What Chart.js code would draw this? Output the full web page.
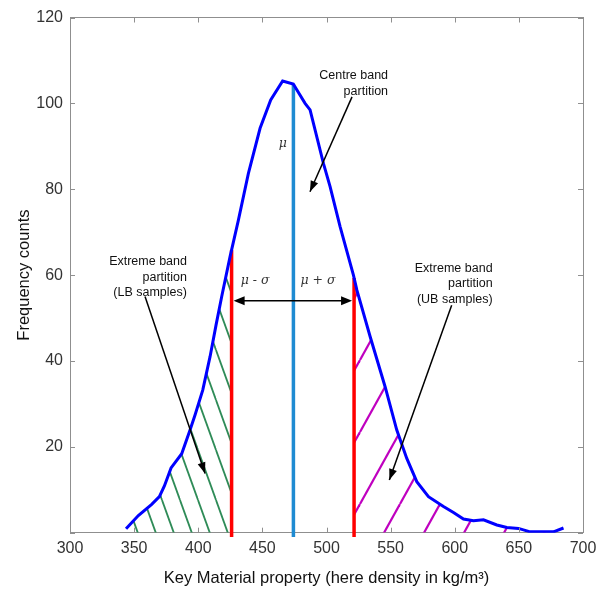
<!DOCTYPE html>
<html>
<head>
<meta charset="utf-8">
<script src="https://cdn.jsdelivr.net/npm/chart.js@4.4.1/dist/chart.umd.min.js"></script>
<style>
  html, body { margin: 0; padding: 0; background: #fff; }
  #wrap { width: 612px; height: 590px; }
</style>
</head>
<body>
<div id="wrap"><canvas id="chart"></canvas></div>
<script>
// frequency curve
let densityX = [343.7, 353.3, 363.7, 369.7, 373.6, 378.8, 387.1, 393.6, 397.5, 403.5,
  409.2, 413.9, 418.3, 424.8, 431.3, 439.1, 448.2, 456.5, 465.8, 474.1,
  483.3, 487.2, 497.6, 502.8, 510.6, 521.0, 523.7, 534.0, 545.7, 554.8,
  562.6, 570.4, 579.5, 591.2, 599.0, 606.8, 614.6, 622.4, 632.8, 640.6,
  649.7, 658.8, 677.0, 684.8];
let counts = [0.9, 4.0, 6.6, 8.4, 10.9, 15.1, 18.4, 23.9, 27.4, 33.2,
  41.0, 48.4, 55.0, 64.3, 72.8, 83.7, 94.2, 100.8, 105.2, 104.5,
  100.0, 98.5, 86.0, 80.6, 71.3, 60.0, 56.5, 45.7, 34.0, 23.9,
  17.3, 11.9, 8.4, 6.1, 4.7, 3.2, 2.8, 3.0, 1.8, 1.2,
  1.0, 0.2, 0.2, 1.1];

// partition boundaries (mu - sigma, mu, mu + sigma)
let lowBound = 426;
let meanValue = 474.2;
let highBound = 521.5;

let xTicks = [300, 350, 400, 450, 500, 550, 600, 650, 700];
let yTicks = [0, 20, 40, 60, 80, 100, 120];

// annotation text, anchored in data units
let notes = [
  { lines: ["Centre band", "partition"], x: 548, y: 106.4 },
  { lines: ["Extreme band", "partition", "(LB samples)"], x: 391.2, y: 63.1 },
  { lines: ["Extreme band", "partition", "(UB samples)"], x: 629.5, y: 61.6 }
];
let arrows = [
  { from: [519.9, 101.5], to: [487.1, 79.4] },
  { from: [358.5, 55.0], to: [405.3, 13.8] },
  { from: [597.6, 53.0], to: [549.0, 12.3] }
];
let sigmaArrowY = 54;
let greekLabels = [
  { text: "\u03bc", x: 465.9, y: 90.7 },
  { text: "\u03bc - \u03c3", x: 444.3, y: 58.7 },
  { text: "\u03bc + \u03c3", x: 493.4, y: 58.6 }
];

function curveAt(v) {
  for (let i = 0; i < densityX.length - 1; i++) {
    if (densityX[i] <= v && v <= densityX[i + 1]) {
      let t = (v - densityX[i]) / (densityX[i + 1] - densityX[i]);
      return counts[i] + (counts[i + 1] - counts[i]) * t;
    }
  }
  return 0;
}

let canvas = document.getElementById("chart");
let ctx = canvas.getContext("2d");

// diagonal hatch as a repeating pattern
function hatch(colour, w, h, down, lw) {
  let c = document.createElement("canvas");
  c.width = w;
  c.height = h;
  let g = c.getContext("2d");
  g.strokeStyle = colour;
  g.lineWidth = lw;
  [-w, 0, w].forEach(function (off) {
    g.beginPath();
    if (down) {
      g.moveTo(off, 0);
      g.lineTo(off + w, h);
    } else {
      g.moveTo(off, h);
      g.lineTo(off + w, 0);
    }
    g.stroke();
  });
  return ctx.createPattern(c, "repeat");
}

let curve = densityX.map(function (v, i) {
  return { x: v, y: counts[i] };
});
let leftArea = curve.filter(function (p) { return p.x < lowBound; })
  .concat([{ x: lowBound, y: curveAt(lowBound) }]);
let rightArea = [{ x: highBound, y: curveAt(highBound) }]
  .concat(curve.filter(function (p) { return p.x > highBound; }));

function vline(v) {
  return [{ x: v, y: -1 }, { x: v, y: curveAt(v) }];
}

const FONT = '"Liberation Sans", Arial, Helvetica, sans-serif';
const AXIS_GREY = "#8f8f8f";

function arrowHead(c, x1, y1, x2, y2, len, half) {
  let a = Math.atan2(y2 - y1, x2 - x1);
  c.beginPath();
  c.moveTo(x2, y2);
  c.lineTo(x2 - len * Math.cos(a) + half * Math.sin(a), y2 - len * Math.sin(a) - half * Math.cos(a));
  c.lineTo(x2 - len * Math.cos(a) - half * Math.sin(a), y2 - len * Math.sin(a) + half * Math.cos(a));
  c.closePath();
  c.fill();
}

const annotations = {
  id: "annotations",
  afterDraw(chart) {
    let c = chart.ctx;
    let x = chart.scales.x;
    let y = chart.scales.y;
    let a = chart.chartArea;
    c.save();

    // inward tick marks on all four sides
    c.strokeStyle = AXIS_GREY;
    c.lineWidth = 1;
    xTicks.forEach(function (v) {
      let px = Math.round(x.getPixelForValue(v)) + 0.5;
      c.beginPath();
      c.moveTo(px, a.bottom); c.lineTo(px, a.bottom - 5);
      c.moveTo(px, a.top); c.lineTo(px, a.top + 5);
      c.stroke();
    });
    yTicks.forEach(function (v) {
      let py = Math.round(y.getPixelForValue(v)) + 0.5;
      c.beginPath();
      c.moveTo(a.left, py); c.lineTo(a.left + 5, py);
      c.moveTo(a.right, py); c.lineTo(a.right - 5, py);
      c.stroke();
    });

    // arrows
    c.strokeStyle = "#000";
    c.fillStyle = "#000";
    c.lineWidth = 1.5;
    arrows.forEach(function (ar) {
      let x1 = x.getPixelForValue(ar.from[0]), y1 = y.getPixelForValue(ar.from[1]);
      let x2 = x.getPixelForValue(ar.to[0]), y2 = y.getPixelForValue(ar.to[1]);
      c.beginPath();
      c.moveTo(x1, y1);
      c.lineTo(x2, y2);
      c.stroke();
      arrowHead(c, x1, y1, x2, y2, 11, 4);
    });

    // mu +/- sigma double arrow
    let sy = y.getPixelForValue(sigmaArrowY);
    let sx1 = x.getPixelForValue(lowBound) + 2;
    let sx2 = x.getPixelForValue(highBound) - 2;
    c.beginPath();
    c.moveTo(sx1 + 6, sy);
    c.lineTo(sx2 - 6, sy);
    c.stroke();
    arrowHead(c, sx2, sy, sx1, sy, 11, 4.5);
    arrowHead(c, sx1, sy, sx2, sy, 11, 4.5);

    // notes
    c.fillStyle = "#111";
    c.font = "12.5px " + FONT;
    c.textAlign = "right";
    c.textBaseline = "middle";
    notes.forEach(function (n) {
      let px = x.getPixelForValue(n.x);
      let py = y.getPixelForValue(n.y);
      n.lines.forEach(function (line, i) {
        c.fillText(line, px, py + i * 15.5);
      });
    });

    c.fillStyle = "#333";
    c.font = 'italic 12.5px "DejaVu Serif", "Liberation Serif", serif';
    c.textAlign = "center";
    greekLabels.forEach(function (g) {
      c.fillText(g.text, x.getPixelForValue(g.x), y.getPixelForValue(g.y));
    });
    c.restore();
  }
};

let densityChart = new Chart(ctx, {
  type: "line",
  data: {
    datasets: [
      {
        data: curve,
        borderColor: "#0000ff",
        borderWidth: 3,
        pointRadius: 0,
        fill: false,
        tension: 0
      },
      {
        data: vline(meanValue),
        borderColor: "#1e8bd2",
        borderWidth: 3.5,
        pointRadius: 0,
        fill: false,
        clip: false
      },
      {
        data: vline(lowBound),
        borderColor: "#ff0000",
        borderWidth: 3.5,
        pointRadius: 0,
        fill: false,
        clip: false
      },
      {
        data: vline(highBound),
        borderColor: "#ff0000",
        borderWidth: 3.5,
        pointRadius: 0,
        fill: false,
        clip: false
      },
      {
        data: leftArea,
        borderColor: "rgba(0,0,0,0)",
        borderWidth: 0,
        pointRadius: 0,
        backgroundColor: hatch("#2e8b57", 18, 50, true, 1.8),
        fill: "origin"
      },
      {
        data: rightArea,
        borderColor: "rgba(0,0,0,0)",
        borderWidth: 0,
        pointRadius: 0,
        backgroundColor: hatch("#bf00bf", 40, 72, false, 2.2),
        fill: "origin"
      }
    ]
  },
  options: {
    responsive: true,
    maintainAspectRatio: false,
    animation: false,
    layout: { padding: 0 },
    plugins: {
      legend: { display: false },
      tooltip: { enabled: false }
    },
    scales: {
      x: {
        type: "linear",
        position: "bottom",
        min: 300,
        max: 700,
        afterBuildTicks: function (s) {
          s.ticks = xTicks.map(function (v) { return { value: v }; });
        },
        afterFit: function (s) { s.height = 57.3; },
        grid: { display: false, drawTicks: false },
        border: { display: true, color: AXIS_GREY, width: 1 },
        ticks: {
          color: "#333",
          padding: 6,
          maxRotation: 0,
          font: { family: FONT, size: 16 }
        },
        title: {
          display: true,
          text: "Key Material property (here density in kg/m\u00b3)",
          color: "#111",
          font: { family: FONT, size: 16.5 },
          padding: { top: 0, bottom: 2 }
        }
      },
      x2: {
        type: "linear",
        position: "top",
        min: 300,
        max: 700,
        afterFit: function (s) { s.height = 17.5; },
        grid: { display: false, drawTicks: false },
        border: { display: true, color: AXIS_GREY, width: 1 },
        ticks: { display: false }
      },
      y: {
        type: "linear",
        position: "left",
        min: 0,
        max: 120,
        afterBuildTicks: function (s) {
          s.ticks = yTicks.map(function (v) { return { value: v }; });
        },
        afterFit: function (s) { s.width = 70; },
        grid: { display: false, drawTicks: false },
        border: { display: true, color: AXIS_GREY, width: 1 },
        ticks: {
          color: "#333",
          padding: 7,
          font: { family: FONT, size: 16 },
          callback: function (v) { return v === 0 ? "" : v; }
        },
        title: {
          display: true,
          text: "Frequency counts",
          color: "#111",
          font: { family: FONT, size: 16.5 },
          padding: { top: 15, bottom: 0 }
        }
      },
      y2: {
        type: "linear",
        position: "right",
        min: 0,
        max: 120,
        afterFit: function (s) { s.width = 29; },
        grid: { display: false, drawTicks: false },
        border: { display: true, color: AXIS_GREY, width: 1 },
        ticks: { display: false }
      }
    }
  },
  plugins: [annotations]
});
</script>
</body>
</html>
